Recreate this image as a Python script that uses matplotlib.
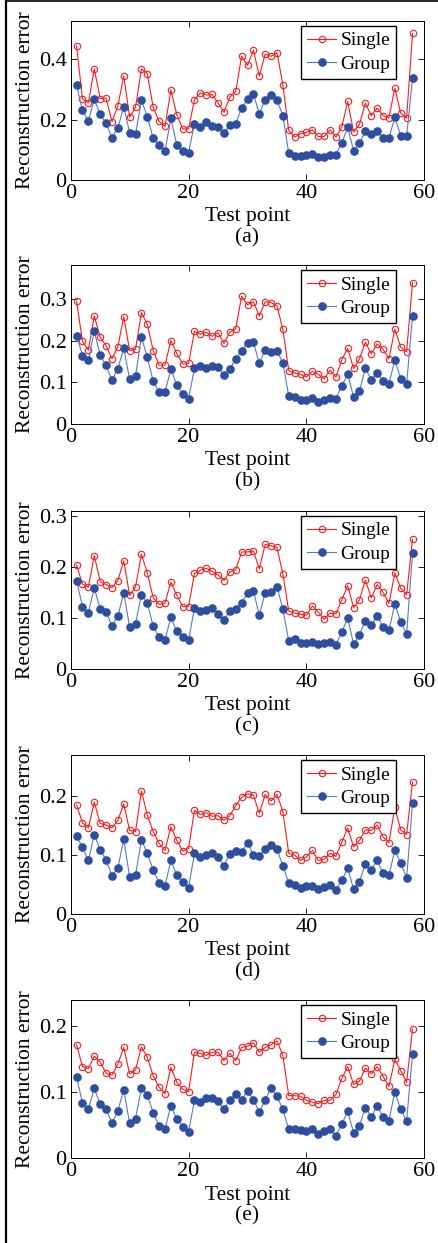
import matplotlib
matplotlib.use('Agg')
import matplotlib.pyplot as plt
from matplotlib.lines import Line2D
import numpy as np

plt.rcParams['font.family'] = ['Liberation Serif', 'DejaVu Serif']

test_point = np.arange(1, 59)

single_a = [0.443, 0.268, 0.255, 0.368, 0.269, 0.271, 0.193, 0.245, 0.344, 0.208,
            0.240, 0.368, 0.352, 0.240, 0.194, 0.177, 0.298, 0.216, 0.169, 0.169,
            0.266, 0.288, 0.281, 0.283, 0.255, 0.224, 0.274, 0.293, 0.410, 0.379,
            0.430, 0.344, 0.417, 0.409, 0.421, 0.315, 0.164, 0.142, 0.153, 0.158,
            0.166, 0.144, 0.144, 0.166, 0.142, 0.175, 0.260, 0.159, 0.184, 0.255,
            0.213, 0.238, 0.213, 0.206, 0.304, 0.221, 0.205, 0.485]
group_a = [0.313, 0.231, 0.194, 0.268, 0.217, 0.188, 0.140, 0.172, 0.242, 0.156,
           0.151, 0.264, 0.210, 0.138, 0.116, 0.095, 0.204, 0.116, 0.096, 0.090,
           0.186, 0.176, 0.192, 0.180, 0.174, 0.154, 0.183, 0.186, 0.238, 0.267,
           0.285, 0.219, 0.266, 0.281, 0.264, 0.213, 0.088, 0.080, 0.078, 0.084,
           0.087, 0.075, 0.075, 0.082, 0.084, 0.123, 0.174, 0.097, 0.121, 0.162,
           0.153, 0.161, 0.140, 0.138, 0.207, 0.147, 0.144, 0.336]

single_b = [0.294, 0.198, 0.177, 0.259, 0.208, 0.188, 0.156, 0.185, 0.257, 0.176,
            0.179, 0.267, 0.239, 0.176, 0.141, 0.141, 0.200, 0.169, 0.144, 0.145,
            0.222, 0.215, 0.220, 0.210, 0.219, 0.193, 0.220, 0.228, 0.306, 0.286,
            0.293, 0.259, 0.293, 0.291, 0.283, 0.227, 0.128, 0.122, 0.119, 0.113,
            0.126, 0.119, 0.108, 0.129, 0.112, 0.154, 0.181, 0.133, 0.156, 0.196,
            0.168, 0.192, 0.179, 0.156, 0.227, 0.184, 0.173, 0.339]
group_b = [0.212, 0.164, 0.153, 0.222, 0.165, 0.141, 0.105, 0.132, 0.182, 0.107,
           0.115, 0.208, 0.160, 0.102, 0.076, 0.076, 0.132, 0.093, 0.072, 0.061,
           0.133, 0.138, 0.134, 0.139, 0.136, 0.117, 0.132, 0.156, 0.174, 0.195,
           0.196, 0.146, 0.177, 0.172, 0.176, 0.146, 0.067, 0.065, 0.057, 0.057,
           0.063, 0.053, 0.057, 0.062, 0.061, 0.092, 0.119, 0.065, 0.079, 0.134,
           0.106, 0.122, 0.104, 0.097, 0.153, 0.109, 0.097, 0.259]

single_c = [0.203, 0.166, 0.160, 0.222, 0.171, 0.165, 0.159, 0.173, 0.212, 0.144,
            0.160, 0.225, 0.188, 0.139, 0.126, 0.129, 0.170, 0.144, 0.122, 0.122,
            0.187, 0.193, 0.197, 0.191, 0.184, 0.173, 0.190, 0.194, 0.229, 0.229,
            0.231, 0.196, 0.244, 0.241, 0.238, 0.186, 0.113, 0.109, 0.107, 0.105,
            0.123, 0.111, 0.097, 0.109, 0.108, 0.135, 0.163, 0.120, 0.135, 0.174,
            0.139, 0.165, 0.150, 0.128, 0.188, 0.158, 0.145, 0.254]
group_c = [0.173, 0.122, 0.110, 0.158, 0.118, 0.112, 0.084, 0.103, 0.149, 0.082,
           0.088, 0.145, 0.129, 0.083, 0.062, 0.056, 0.101, 0.073, 0.063, 0.056,
           0.119, 0.113, 0.116, 0.120, 0.107, 0.096, 0.113, 0.118, 0.129, 0.148,
           0.153, 0.105, 0.149, 0.150, 0.161, 0.117, 0.054, 0.059, 0.050, 0.050,
           0.052, 0.048, 0.050, 0.053, 0.047, 0.072, 0.099, 0.048, 0.067, 0.094,
           0.085, 0.104, 0.082, 0.075, 0.127, 0.092, 0.068, 0.227]

single_d = [0.185, 0.155, 0.146, 0.190, 0.154, 0.151, 0.146, 0.159, 0.187, 0.142,
            0.140, 0.209, 0.168, 0.140, 0.120, 0.108, 0.148, 0.125, 0.107, 0.111,
            0.176, 0.169, 0.172, 0.166, 0.167, 0.159, 0.167, 0.184, 0.198, 0.204,
            0.202, 0.171, 0.203, 0.192, 0.203, 0.174, 0.103, 0.100, 0.091, 0.097,
            0.108, 0.091, 0.093, 0.103, 0.098, 0.122, 0.146, 0.114, 0.125, 0.143,
            0.142, 0.151, 0.131, 0.121, 0.181, 0.143, 0.135, 0.224]
group_d = [0.132, 0.113, 0.091, 0.135, 0.109, 0.092, 0.065, 0.078, 0.127, 0.063,
           0.066, 0.126, 0.103, 0.075, 0.052, 0.048, 0.091, 0.066, 0.054, 0.045,
           0.103, 0.097, 0.101, 0.103, 0.096, 0.082, 0.102, 0.107, 0.105, 0.121,
           0.100, 0.099, 0.110, 0.117, 0.110, 0.082, 0.052, 0.050, 0.045, 0.047,
           0.048, 0.043, 0.046, 0.050, 0.041, 0.057, 0.078, 0.042, 0.055, 0.085,
           0.075, 0.091, 0.069, 0.066, 0.108, 0.086, 0.061, 0.188]

single_e = [0.172, 0.139, 0.136, 0.155, 0.146, 0.129, 0.126, 0.143, 0.168, 0.128,
            0.134, 0.169, 0.153, 0.125, 0.108, 0.098, 0.138, 0.115, 0.105, 0.101,
            0.161, 0.159, 0.156, 0.161, 0.161, 0.148, 0.159, 0.148, 0.168, 0.170,
            0.175, 0.161, 0.168, 0.172, 0.178, 0.156, 0.095, 0.095, 0.094, 0.088,
            0.085, 0.083, 0.088, 0.088, 0.097, 0.121, 0.139, 0.112, 0.117, 0.137,
            0.128, 0.139, 0.124, 0.109, 0.150, 0.133, 0.115, 0.196]
group_e = [0.123, 0.084, 0.075, 0.106, 0.082, 0.074, 0.053, 0.072, 0.104, 0.053,
           0.060, 0.106, 0.096, 0.069, 0.049, 0.044, 0.080, 0.059, 0.048, 0.040,
           0.088, 0.086, 0.092, 0.091, 0.087, 0.074, 0.089, 0.097, 0.089, 0.102,
           0.089, 0.070, 0.088, 0.107, 0.094, 0.074, 0.044, 0.045, 0.043, 0.041,
           0.044, 0.037, 0.042, 0.044, 0.034, 0.052, 0.071, 0.039, 0.049, 0.077,
           0.063, 0.079, 0.063, 0.057, 0.101, 0.074, 0.057, 0.158]

panel_names = ['(a)', '(b)', '(c)', '(d)', '(e)']
singles = [single_a, single_b, single_c, single_d, single_e]
groups = [group_a, group_b, group_c, group_d, group_e]
y_tops = [0.527, 0.381, 0.310, 0.270, 0.240]
y_ticks = [[0, 0.2, 0.4], [0, 0.1, 0.2, 0.3], [0, 0.1, 0.2, 0.3], [0, 0.1, 0.2], [0, 0.1, 0.2]]
x_ticks = [0, 20, 40, 60]

W, H = 438, 1243
# axes box in pixels (top, bottom)
boxes = [(20.7, 180), (265, 424), (510.7, 668.7), (755, 914), (1000, 1158.3)]
left_px, right_px = 70.7, 424.3

fig = plt.figure(figsize=(W / 100, H / 100), dpi=100)

for i in range(5):
    top, bot = boxes[i]
    ax = fig.add_axes([left_px / W, 1 - bot / H, (right_px - left_px) / W, (bot - top) / H])
    ax.plot(test_point, singles[i], color='#ff1a1a', lw=0.8, marker='o', ms=4.6,
            mfc='none', mec='#ff1a1a', mew=0.8, label='Single')
    ax.plot(test_point, groups[i], color='#5a78c4', lw=0.8, marker='o', ms=5.2,
            mfc='#2e4f9f', mec='#2e4f9f', label='Group')
    ax.set_xlim(0, 60)
    ax.set_ylim(0, y_tops[i])
    ax.set_xticks(x_ticks)
    ax.set_yticks(y_ticks[i])
    ax.set_yticklabels(['%g' % t for t in y_ticks[i]])
    ax.tick_params(direction='in', top=True, right=True, length=4, width=0.6,
                   labelsize=16, pad=3)
    for s in ax.spines.values():
        s.set_linewidth(0.7)
    ax.set_xlabel('Test point', fontsize=15.5)
    ax.set_ylabel('Reconstruction error', fontsize=15.5)
    ax.yaxis.label.set_va('center')
    ax.yaxis.set_label_coords((26 - left_px) / (right_px - left_px), 0.5)
    ax.xaxis.label.set_va('center')
    ax.xaxis.set_label_coords(0.5, -37 / (bot - top))
    ax.text(0.5, -58 / (bot - top), panel_names[i], transform=ax.transAxes,
            ha='center', va='center', fontsize=15.5)
    leg = ax.legend(loc='upper right', bbox_to_anchor=(0.92, 0.967), fontsize=14,
                    fancybox=False, framealpha=1, edgecolor='black', borderaxespad=0,
                    handlelength=1.5, handletextpad=0.2, labelspacing=0.3,
                    borderpad=0.3)
    leg.get_frame().set_linewidth(1.0)

# frame lines of the surrounding table cell
fig.add_artist(Line2D([6 / W, 6 / W], [0, 1], color='black', lw=1.6))
fig.add_artist(Line2D([6 / W, 1], [1 - 0.8 / H, 1 - 0.8 / H], color='black', lw=1.2))

plt.savefig('out.png', dpi=100)
